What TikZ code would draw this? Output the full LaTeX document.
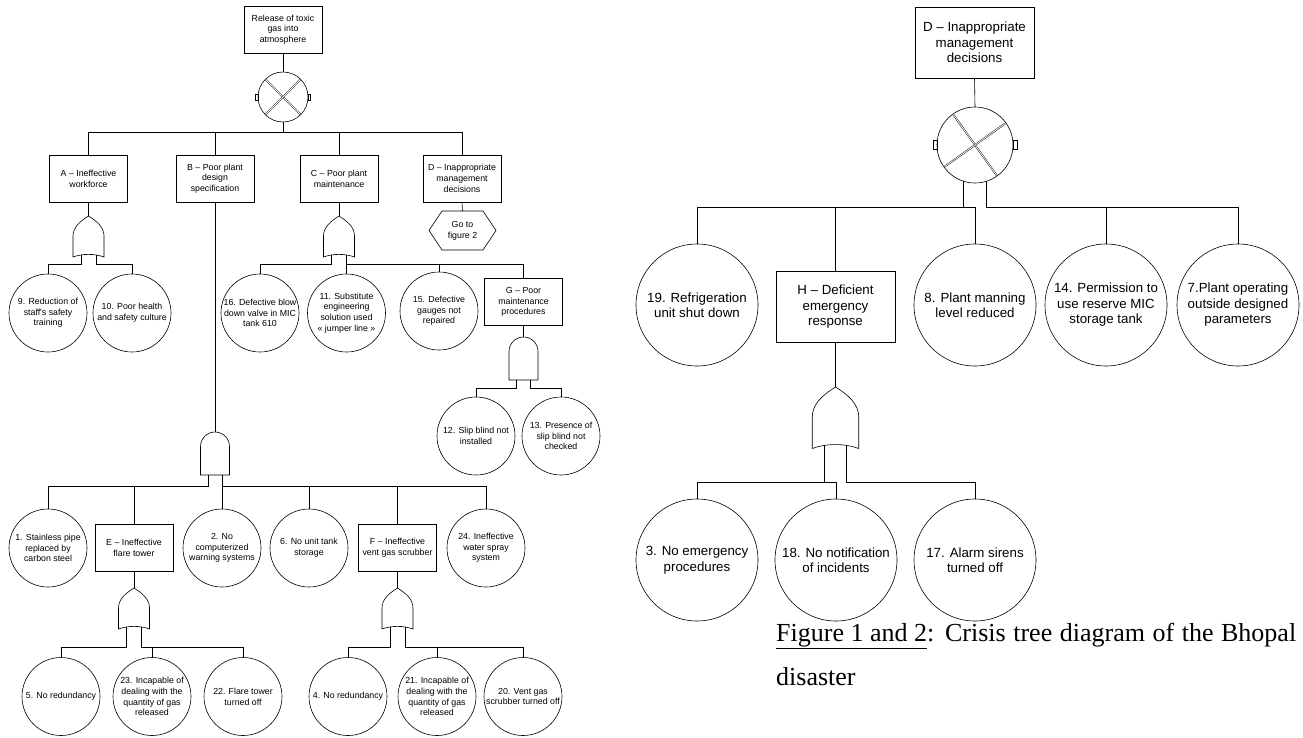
\documentclass[tikz,border=0pt]{standalone}
\usepackage{fontspec}
\newfontfamily\arialf{Liberation Sans}
\newfontfamily\timesf{Liberation Serif}
\usetikzlibrary{calc,shapes.geometric}
\tikzset{
 gl/.style={line width=0.6pt},
 dl/.style={line width=0.45pt, double, double distance=0.8pt},
 con/.style={line width=0.6pt},
 sfont/.style={font=\arialf\fontsize{8.8}{10.7}\selectfont},
 bfont/.style={font=\arialf\fontsize{13.3}{15.5}\selectfont},
 sbox/.style={draw, line width=0.6pt, minimum width=78pt, minimum height=47pt, inner sep=1pt, align=center, sfont},
 scirc/.style={draw, circle, line width=0.6pt, minimum size=78pt, inner sep=0pt, align=center, sfont},
 bbox/.style={draw, line width=0.6pt, minimum width=119pt, minimum height=71pt, inner sep=1pt, align=center, bfont},
 bcirc/.style={draw, circle, line width=0.6pt, minimum size=122pt, inner sep=0pt, align=center, bfont},
 orgate/.pic={
  \draw[gl] (0,0) .. controls (-8,5) and (-15.5,11) .. (-15.5,20) -- (-15.5,41) .. controls (-6,37.5) and (6,37.5) .. (15.5,41) -- (15.5,20) .. controls (15.5,11) and (8,5) .. (0,0) -- cycle;
  \coordinate (-top) at (0,0);
  \coordinate (-l) at (-7.5,38.6);
  \coordinate (-r) at (7.5,38.6);
 },
 andgate/.pic={
  \draw[gl] (-14.5,43) -- (-14.5,14.5) .. controls (-14.5,6.5) and (-8,0) .. (0,0) .. controls (8,0) and (14.5,6.5) .. (14.5,14.5) -- (14.5,43) -- cycle;
  \coordinate (-top) at (0,0);
  \coordinate (-l) at (-7,43);
  \coordinate (-r) at (7,43);
 },
 xorgate/.pic={
  \draw[gl] (0,0) circle[radius=25pt];
  \draw[dl] (45+#1:24.5) -- (225+#1:24.5);
  \draw[dl] (-45+#1:24.5) -- (135+#1:24.5);
  \draw[gl] (-25,-3) rectangle (-27.5,3);
  \draw[gl] (25,-3) rectangle (27.5,3);
  \coordinate (-top) at (0,-25);
  \coordinate (-bot) at (0,25);
  \coordinate (-l) at (-7.6,23.8);
  \coordinate (-r) at (7.6,23.8);
 },
}
\begin{document}
\begin{tikzpicture}[x=1pt,y=-1pt]
\useasboundingbox (0,0) rectangle (1303,737);

% ---------------- Figure 1 ----------------
\node[sbox] (top) at (283,29.5) {Release of toxic\\gas into\\atmosphere};
\pic (x1) at (283,97) {xorgate=0};
\coordinate (bus1) at (0,132);

\node[sbox] (A) at (88.5,178.5) {A \textendash{} Ineffective\\workforce};
\node[sbox] (B) at (215,178.5) {B \textendash{} Poor plant\\design\\specification};
\node[sbox] (C) at (339,178.5) {C \textendash{} Poor plant\\maintenance};
\node[sbox] (D) at (462,178.5) {D \textendash{} Inappropriate\\management\\decisions};
\node[sfont, align=center, inner sep=0pt] (hex) at (462.5,230.5) {Go to\\figure 2};
\draw[gl] ($(hex)+(-33.5,0)$) -- ($(hex)+(-20.5,-19.5)$) -- ($(hex)+(20.5,-19.5)$) -- ($(hex)+(33.5,0)$) -- ($(hex)+(20.5,19.5)$) -- ($(hex)+(-20.5,19.5)$) -- cycle;

\draw[con] (top.south) -- (x1-top);
\draw[con] (x1-bot) -- (x1-bot |- bus1);
\draw[con] (A.north) -- (A.north |- bus1) -- (D.north |- bus1) -- (D.north);
\draw[con] (B.north) -- (B.north |- bus1);
\draw[con] (C.north) -- (C.north |- bus1);
\draw[con] (D.south) -- ($(hex)+(0,-19.5)$);

% A branch
\pic (gA) at (88.5,216) {orgate};
\coordinate (busA) at (0,264);
\node[scirc] (c9) at (48,313) {9. Reduction of\\staff's safety\\training};
\node[scirc] (c10) at (132,313) {10. Poor health\\and safety culture};
\draw[con] (A.south) -- (gA-top);
\draw[con] (gA-l) |- (c9.north |- busA) -- (c9.north);
\draw[con] (gA-r) |- (c10.north |- busA) -- (c10.north);

% C branch
\pic (gC) at (339,216) {orgate};
\node[scirc] (c16) at (260,313) {16. Defective blow\\down valve in MIC\\tank 610};
\node[scirc] (c11) at (346.5,313) {11. Substitute\\engineering\\solution used\\« jumper line »};
\node[scirc] (c15) at (439,311) {15. Defective\\gauges not\\repaired};
\node[sbox] (G) at (523.5,302) {G \textendash{} Poor\\maintenance\\procedures};
\draw[con] (C.south) -- (gC-top);
\draw[con] (gC-l) |- (c16.north |- busA) -- (c16.north);
\draw[con] (gC-r) -- (c11.north);
\draw[con] (gC-r) |- (G.north |- busA) -- (G.north);
\draw[con] (c15.north) -- (c15.north |- busA);

% G branch
\pic (gG) at (523.5,337) {andgate};
\coordinate (busG) at (0,388);
\node[scirc] (c12) at (476,436) {12. Slip blind not\\installed};
\node[scirc] (c13) at (561,436) {13. Presence of\\slip blind not\\checked};
\draw[con] (G.south) -- (gG-top);
\draw[con] (gG-l) |- (c12.north |- busG) -- (c12.north);
\draw[con] (gG-r) |- (c13.north |- busG) -- (c13.north);

% B branch
\pic (gB) at (215,432) {andgate};
\coordinate (busB) at (0,486);
\node[scirc] (c1) at (48,548) {1. Stainless pipe\\replaced by\\carbon steel};
\node[sbox] (E) at (134,547.5) {E \textendash{} Ineffective\\flare tower};
\node[scirc] (c2) at (222,548) {2. No\\computerized\\warning systems};
\node[scirc] (c6) at (309,548) {6. No unit tank\\storage};
\node[sbox] (F) at (397.5,547.5) {F \textendash{} Ineffective\\vent gas scrubber};
\node[scirc] (c24) at (486,548) {24. Ineffective\\water spray\\system};
\draw[con] (B.south) -- (gB-top);
\draw[con] (gB-l) |- (c1.north |- busB) -- (c1.north);
\draw[con] (E.north) -- (E.north |- busB);
\draw[con] (gB-r) |- (c24.north |- busB) -- (c24.north);
\draw[con] (c2.north) -- (c2.north |- busB);
\draw[con] (c6.north) -- (c6.north |- busB);
\draw[con] (F.north) -- (F.north |- busB);

% E branch
\pic (gE) at (134,588) {orgate};
\coordinate (busE) at (0,647);
\node[scirc] (c5) at (61,696.5) {5. No redundancy};
\node[scirc] (c23) at (152,696.5) {23. Incapable of\\dealing with the\\quantity of gas\\released};
\node[scirc] (c22) at (243,696.5) {22. Flare tower\\turned off};
\draw[con] (E.south) -- (gE-top);
\draw[con] (gE-l) |- (c5.north |- busE) -- (c5.north);
\draw[con] (gE-r) |- (c22.north |- busE) -- (c22.north);
\draw[con] (c23.north) -- (c23.north |- busE);

% F branch
\pic (gF) at (397.5,588) {orgate};
\node[scirc] (c4) at (348,696.5) {4. No redundancy};
\node[scirc] (c21) at (437,696.5) {21. Incapable of\\dealing with the\\quantity of gas\\released};
\node[scirc] (c20) at (523,696.5) {20. Vent gas\\scrubber turned off};
\draw[con] (F.south) -- (gF-top);
\draw[con] (gF-l) |- (c4.north |- busE) -- (c4.north);
\draw[con] (gF-r) |- (c20.north |- busE) -- (c20.north);
\draw[con] (c21.north) -- (c21.north |- busE);

% ---------------- Figure 2 ----------------
\node[bbox] (D2) at (974.5,42.5) {D \textendash{} Inappropriate\\management\\decisions};
\pic[scale=1.52] (x2) at (975,145) {xorgate=9.5};
\coordinate (bus2) at (0,207);
\node[bcirc] (c19) at (697,305) {19. Refrigeration\\unit shut down};
\node[bbox] (H) at (835.5,307) {H \textendash{} Deficient\\emergency\\response};
\node[bcirc] (c8) at (975,305) {8. Plant manning\\level reduced};
\node[bcirc] (c14) at (1106,305) {14. Permission to\\use reserve MIC\\storage tank};
\node[bcirc] (c7) at (1238,305) {7.Plant operating\\outside designed\\parameters};
\draw[con] (D2.south) -- (x2-top);
\draw[con] (x2-l) |- (c19.north |- bus2) -- (c19.north);
\draw[con] (x2-l) |- (c8.north |- bus2) -- (c8.north);
\draw[con] (H.north) -- (H.north |- bus2);
\draw[con] (x2-r) |- (c7.north |- bus2) -- (c7.north);
\draw[con] (c14.north) -- (c14.north |- bus2);

\pic[scale=1.5] (gH) at (835.5,387) {orgate};
\coordinate (bus3) at (0,482);
\node[bcirc] (c3) at (697,560) {3. No emergency\\procedures};
\node[bcirc] (c18) at (836,560) {18. No notification\\of incidents};
\node[bcirc] (c17) at (975,560) {17. Alarm sirens\\turned off};
\draw[con] (H.south) -- (gH-top);
\draw[con] (gH-l) |- (c3.north |- bus3) -- (c3.north);
\draw[con] (gH-l) |- (c18.north |- bus3) -- (c18.north);
\draw[con] (gH-r) |- (c17.north |- bus3) -- (c17.north);

% caption
\node[anchor=base west, inner sep=0pt, font=\timesf\fontsize{26}{30}\selectfont] (cap1) at (776,641) {\makebox[520pt][s]{\underline{Figure 1 and 2}: Crisis tree diagram of the Bhopal}};
\node[anchor=base west, inner sep=0pt, font=\timesf\fontsize{26}{30}\selectfont] (cap2) at (776,685) {disaster};
\end{tikzpicture}
\end{document}
